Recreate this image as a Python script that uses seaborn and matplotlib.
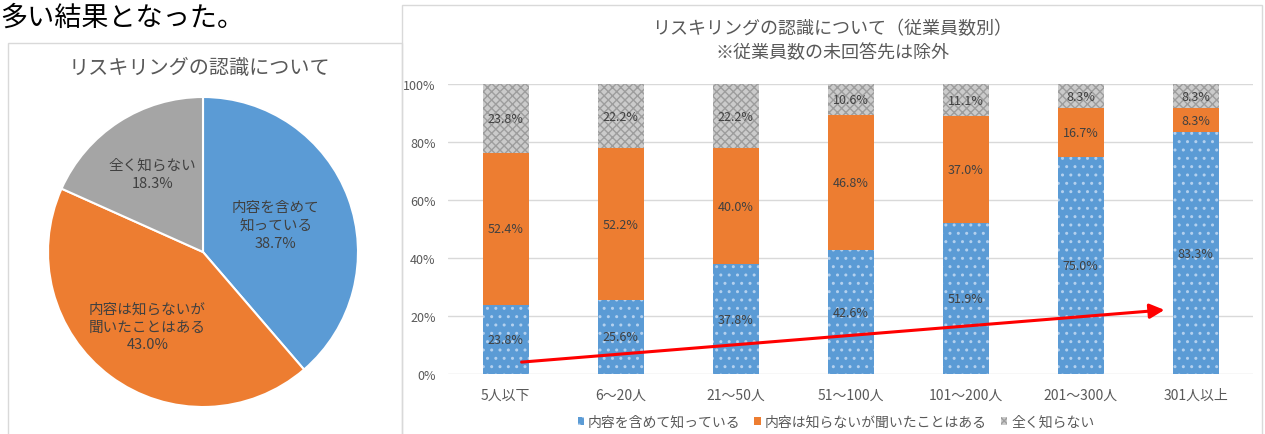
import numpy as np
import pandas as pd
import matplotlib
matplotlib.use("Agg")
import matplotlib.pyplot as plt
import seaborn as sns
from matplotlib.patches import Rectangle, Patch

# ---------------- data ----------------
categories = ["5人以下", "6～20人", "21～50人", "51～100人", "101～200人", "201～300人", "301人以上"]
series_names = ["内容を含めて知っている", "内容は知らないが聞いたことはある", "全く知らない"]
known = [23.8, 25.6, 37.8, 42.6, 51.9, 75.0, 83.3]
heard = [52.4, 52.2, 40.0, 46.8, 37.0, 16.7, 8.3]
unknown = [23.8, 22.2, 22.2, 10.6, 11.1, 8.3, 8.3]
yticks = [0, 20, 40, 60, 80, 100]

pie_values = [38.7, 43.0, 18.3]
pie_labels = ["内容を含めて\n知っている", "内容は知らないが\n聞いたことはある", "全く知らない"]

# trend arrow (data coords: category index, percent)
arrow_start = (0.14, 4.1)
arrow_end = (5.73, 22.1)

pie_title = "リスキリングの認識について"
bar_title = "リスキリングの認識について（従業員数別）\n※従業員数の未回答先は除外"
top_text = "多い結果となった。"

# ---------------- style ----------------
sns.set_theme(style="white")
plt.rcParams['font.family'] = ['Noto Sans CJK JP', 'DejaVu Sans']
plt.rcParams['hatch.linewidth'] = 1.0

BLUE = "#5b9bd5"
ORANGE = "#ed7d31"
GRAY = "#a5a5a5"
TXT = "#404040"
AX_TXT = "#595959"
GRID = "#d9d9d9"
DOT = "#b3d0ee"
WAVE_FACE = "#cbcbcb"
WAVE_LINE = "#9d9d9d"

W, H = 1265, 435
fig = plt.figure(figsize=(W / 100, H / 100), dpi=100)
fig.patch.set_facecolor("white")

def fx(px):
    return px / W

def fy(py):
    return 1 - py / H

# panel borders
fig.add_artist(Rectangle((fx(8), fy(440)), fx(402) - fx(8), fy(44) - fy(440),
                         transform=fig.transFigure, fill=False, edgecolor=GRID, lw=1))
fig.add_artist(Rectangle((fx(402), fy(440)), fx(1262) - fx(402), fy(6) - fy(440),
                         transform=fig.transFigure, fill=False, edgecolor=GRID, lw=1))

fig.text(0.0, fy(18), top_text, fontsize=19.5, color="black", ha="left", va="center")

# ---------------- pie ----------------
axp = fig.add_axes([fx(48), fy(408), fx(358) - fx(48), fy(98) - fy(408)])
wedges, _ = axp.pie(pie_values, colors=[BLUE, ORANGE, GRAY], startangle=90,
                    counterclock=False,
                    wedgeprops=dict(edgecolor="white", linewidth=1.5))
axp.set_xlim(-1.0, 1.0)
axp.set_ylim(-1.0, 1.0)
axp.set_aspect("equal")
label_r = [0.5, 0.6, 0.6]
for w, lab, val, r in zip(wedges, pie_labels, pie_values, label_r):
    ang = np.deg2rad((w.theta1 + w.theta2) / 2)
    axp.text(r * np.cos(ang), r * np.sin(ang), f"{lab}\n{val:.1f}%",
             ha="center", va="center", fontsize=10.5, color=TXT, linespacing=1.35)
fig.text(fx(199), fy(68), pie_title, fontsize=14.5, color=AX_TXT, ha="center", va="center")

# ---------------- stacked bars ----------------
ax = fig.add_axes([fx(448), fy(375), fx(1253) - fx(448), fy(85) - fy(375)])
df = pd.DataFrame({"cat": categories, "known": known, "heard": heard, "unknown": unknown})
df["lvl2"] = df["known"] + df["heard"]
df["lvl3"] = df["lvl2"] + df["unknown"]

sns.barplot(data=df, x="cat", y="lvl3", order=categories, color=WAVE_FACE, width=0.4,
            hatch="xxxx", edgecolor=WAVE_LINE, linewidth=0, saturation=1, ax=ax)
sns.barplot(data=df, x="cat", y="lvl2", order=categories, color=ORANGE, width=0.4,
            linewidth=0, saturation=1, ax=ax)
sns.barplot(data=df, x="cat", y="known", order=categories, color=BLUE, width=0.4,
            hatch="..", edgecolor=DOT, linewidth=0, saturation=1, ax=ax)

for i in range(len(categories)):
    bottoms = [0, known[i], known[i] + heard[i]]
    for b, v in zip(bottoms, [known[i], heard[i], unknown[i]]):
        ax.text(i, b + v / 2, f"{v:.1f}%", ha="center", va="center",
                fontsize=9, color=TXT)

ax.set_ylim(0, 100)
ax.set_xlim(-0.5, len(categories) - 0.5)
ax.set_yticks(yticks)
ax.set_yticklabels([f"{t}%" for t in yticks])
ax.yaxis.grid(True, color=GRID, lw=1)
ax.set_axisbelow(True)
ax.set_xlabel("")
ax.set_ylabel("")
ax.tick_params(axis="y", length=0, pad=9, labelsize=9, labelcolor=AX_TXT)
ax.tick_params(axis="x", length=0, pad=10, labelsize=10, labelcolor=AX_TXT)
sns.despine(ax=ax, left=True, bottom=True)

ax.annotate("", xy=arrow_end, xytext=arrow_start,
            arrowprops=dict(arrowstyle="-|>", color="red", lw=2.2, mutation_scale=22,
                            shrinkA=0, shrinkB=0))

fig.text(fx(832), fy(41), bar_title, fontsize=13, color=AX_TXT, ha="center",
         va="center", linespacing=1.4)

handles = [Patch(facecolor=BLUE, edgecolor=DOT, hatch="..", lw=0),
           Patch(facecolor=ORANGE, lw=0),
           Patch(facecolor=WAVE_FACE, edgecolor=WAVE_LINE, hatch="xxxx", lw=0)]
fig.legend(handles, series_names, loc="center", bbox_to_anchor=(fx(836), fy(423)),
           ncol=3, frameon=False, fontsize=10, handlelength=0.45, handleheight=0.45,
           handletextpad=0.3, columnspacing=1.0, labelcolor=AX_TXT)

fig.savefig("out.png", dpi=100)
